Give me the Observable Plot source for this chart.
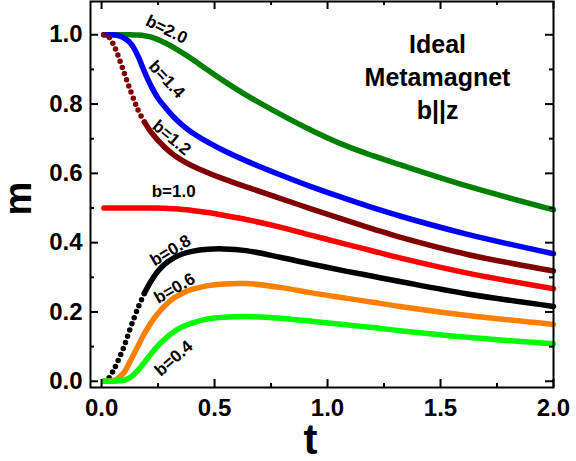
<!DOCTYPE html>
<html>
<head>
<meta charset="utf-8">
<script src="https://cdn.jsdelivr.net/npm/d3@7"></script>
<script src="https://cdn.jsdelivr.net/npm/@observablehq/plot@0.6"></script>
<style>
  html, body { margin: 0; padding: 0; background: #fff; }
</style>
</head>
<body>
<div id="chart"></div>
<script>
// Reduced temperature grid shared by all magnetization curves
const t = [0.01, 0.03, 0.05, 0.07, 0.10, 0.13, 0.16, 0.19, 0.22, 0.25, 0.28, 0.32, 0.36, 0.40,
           0.47, 0.54, 0.64, 0.79, 0.93, 1.08, 1.20, 1.32, 1.62, 2.00];

// Magnetization m(t) for each reduced field b
const m_b20 = [1.000, 1.000, 1.000, 1.000, 1.000, 1.000, 0.999, 0.997, 0.993, 0.986, 0.977, 0.963, 0.947, 0.930,
               0.898, 0.867, 0.826, 0.771, 0.724, 0.680, 0.651, 0.625, 0.563, 0.495];
const m_b14 = [1.000, 1.000, 1.000, 0.998, 0.990, 0.974, 0.940, 0.893, 0.851, 0.817, 0.792, 0.762, 0.738, 0.718,
               0.690, 0.666, 0.636, 0.596, 0.561, 0.527, 0.501, 0.477, 0.424, 0.368];
const m_b12 = [1.000, 0.995, 0.975, 0.945, 0.890, 0.835, 0.785, 0.748, 0.718, 0.695, 0.675, 0.653, 0.636, 0.622,
               0.602, 0.584, 0.561, 0.528, 0.497, 0.465, 0.440, 0.416, 0.366, 0.318];
const m_b10 = [0.500, 0.500, 0.500, 0.500, 0.500, 0.500, 0.500, 0.500, 0.500, 0.500, 0.499, 0.498, 0.496, 0.493,
               0.487, 0.479, 0.467, 0.445, 0.421, 0.396, 0.376, 0.356, 0.312, 0.267];
const m_b08 = [0.000, 0.008, 0.028, 0.055, 0.102, 0.158, 0.210, 0.255, 0.290, 0.318, 0.338, 0.356, 0.368, 0.375,
               0.381, 0.382, 0.377, 0.358, 0.338, 0.318, 0.303, 0.288, 0.252, 0.216];
const m_b06 = [0.000, 0.000, 0.002, 0.007, 0.026, 0.062, 0.100, 0.138, 0.170, 0.196, 0.218, 0.240, 0.255, 0.265,
               0.276, 0.281, 0.282, 0.271, 0.255, 0.240, 0.228, 0.216, 0.190, 0.164];
const m_b04 = [0.000, 0.000, 0.000, 0.001, 0.003, 0.012, 0.031, 0.055, 0.080, 0.103, 0.122, 0.143, 0.158, 0.168,
               0.180, 0.185, 0.187, 0.182, 0.173, 0.163, 0.155, 0.146, 0.127, 0.108];

const fieldLabels = ["b=2.0", "b=1.4", "b=1.2", "b=1.0", "b=0.8", "b=0.6", "b=0.4"];
const fieldColors = ["#008000", "#0000ff", "#800000", "#ff0000", "#000000", "#ff8000", "#00ff00"];
const fieldCurves = [m_b20, m_b14, m_b12, m_b10, m_b08, m_b06, m_b04];
// the sampled points separate visibly where a curve falls or rises steeply
const dottedUpTo = [0, 0, 0.19, 0, 0.19, 0, 0];

// Curve annotations: anchor point (t, m) and text angle
const labelT = [0.288, 0.288, 0.310, 0.319, 0.305, 0.323, 0.319];
const labelM = [1.015, 0.871, 0.703, 0.548, 0.377, 0.268, 0.066];
const labelAngle = [26, 47, 40, 0, -31, -30, -41];

// Axis ticks
const xMajor = [0, 0.5, 1.0, 1.5, 2.0];
const xMinor = [0.25, 0.75, 1.25, 1.75];
const yMajor = [0, 0.2, 0.4, 0.6, 0.8, 1.0];
const yMinor = [0.1, 0.3, 0.5, 0.7, 0.9];

const width = 576, height = 461;
const margin = {top: 1, right: 23, bottom: 74, left: 90};
const W = width - margin.left - margin.right;
const H = height - margin.top - margin.bottom;

const curveMarks = fieldCurves.flatMap((ms, k) => {
  const pts = t.map((tt, i) => ({t: tt, m: ms[i]}));
  const cut = dottedUpTo[k];
  const base = {x: "t", y: "m", stroke: fieldColors[k], strokeWidth: 5.5,
                strokeLinecap: "round", strokeLinejoin: "round", curve: "catmull-rom"};
  if (!cut) return [Plot.line(pts, base)];
  return [
    Plot.line(pts.filter(d => d.t <= cut), {...base, strokeDasharray: "0 6.5"}),
    Plot.line(pts.filter(d => d.t >= cut), base)
  ];
});

const labels = fieldLabels.map((text, i) => ({text, t: labelT[i], m: labelM[i], angle: labelAngle[i]}));

const tickStyle = {strokeWidth: 2, stroke: "#000"};

const chart = Plot.plot({
  width, height,
  marginTop: margin.top, marginRight: margin.right,
  marginBottom: margin.bottom, marginLeft: margin.left,
  style: {background: "#fff", overflow: "visible", fontFamily: "'Liberation Sans', Arial, sans-serif", color: "#000"},
  x: {domain: [-0.049, 2.0]},
  y: {domain: [-0.018, 1.096]},
  marks: [
    ...curveMarks,
    Plot.text(labels, {x: "t", y: "m", text: "text", rotate: "angle", fontSize: 17, fontWeight: "bold", fill: "#000"}),
    // inward ticks on all four sides
    Plot.tickX(xMajor, {x: d => d, insetTop: H - 8, ...tickStyle}),
    Plot.tickX(xMajor, {x: d => d, insetBottom: H - 8, ...tickStyle}),
    Plot.tickX(xMinor, {x: d => d, insetTop: H - 4, ...tickStyle}),
    Plot.tickX(xMinor, {x: d => d, insetBottom: H - 4, ...tickStyle}),
    Plot.tickY(yMajor, {y: d => d, insetRight: W - 8, ...tickStyle}),
    Plot.tickY(yMajor, {y: d => d, insetLeft: W - 8, ...tickStyle}),
    Plot.tickY(yMinor, {y: d => d, insetRight: W - 4, ...tickStyle}),
    Plot.tickY(yMinor, {y: d => d, insetLeft: W - 4, ...tickStyle}),
    Plot.frame({strokeWidth: 2, stroke: "#000"}),
    Plot.axisX(xMajor, {tickSize: 0, tickPadding: 11, fontSize: 24, fontWeight: "bold",
                        tickFormat: d => d.toFixed(1), label: null}),
    Plot.axisY(yMajor, {tickSize: 0, tickPadding: 8, fontSize: 24, fontWeight: "bold",
                        tickFormat: d => d.toFixed(1), label: null}),
    Plot.text(["m"], {text: d => d, frameAnchor: "left", dx: -72, dy: 21, rotate: -90,
                      fontSize: 38, fontWeight: "bold"}),
    Plot.text(["t"], {text: d => d, frameAnchor: "bottom", dx: -11.5, dy: 66,
                      fontSize: 42, fontWeight: "bold"}),
    Plot.text(["Ideal\nMetamagnet\nb||z"], {text: d => d, frameAnchor: "top-right", dx: -116, dy: 28,
                      textAnchor: "middle", lineAnchor: "top", lineHeight: 1.32,
                      fontSize: 25, fontWeight: "bold"})
  ]
});

document.getElementById("chart").appendChild(chart);
</script>
</body>
</html>
